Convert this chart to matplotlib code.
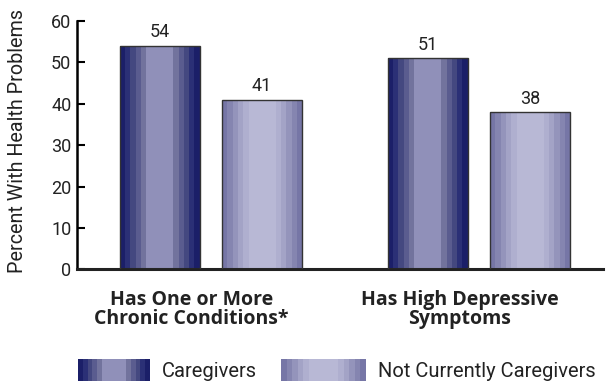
import numpy as np
import matplotlib.pyplot as plt
from matplotlib.patches import Rectangle

plt.rcParams['font.family'] = ['Roboto', 'DejaVu Sans']

categories = ['Has One or More\nChronic Conditions*', 'Has High Depressive\nSymptoms']
series_names = ['Caregivers', 'Not Currently Caregivers']
caregivers = [54, 51]
not_caregivers = [41, 38]
yticks = [0, 10, 20, 30, 40, 50, 60]

# stripe colours, outer edge -> centre
shade_care = ['#1b1f68', '#2b3076', '#444880', '#5a5c8f', '#72739d', '#9090b9']
shade_not = ['#7676a6', '#8585b0', '#9494bb', '#a3a3c6', '#afafcf', '#b8b8d5']
TXT = '#222222'


def stripes(shades):
    # symmetric list of (start, width, colour) as fractions of the bar width
    side = 0.066
    centre = 1 - 2 * side * (len(shades) - 1)
    out = []
    pos = 0.0
    for c in shades[:-1]:
        out.append((pos, side, c))
        pos += side
    out.append((pos, centre, shades[-1]))
    pos += centre
    for c in reversed(shades[:-1]):
        out.append((pos, side, c))
        pos += side
    return out


def shaded_bar(ax, x, h, w, shades):
    for s, sw, c in stripes(shades):
        ax.bar(x - w / 2 + s * w, h, width=sw * w, align='edge', color=c,
               linewidth=0, zorder=2)
    ax.bar(x, h, width=w, fill=False, edgecolor='#333333', linewidth=1.0, zorder=3)


fig = plt.figure(figsize=(6.06, 3.81), dpi=100)
ax = fig.add_axes([0.127, 0.2927, 0.868, 0.652])

x = np.arange(len(categories))
w = 0.298
off = 0.191
for i in x:
    shaded_bar(ax, i - off, caregivers[i], w, shade_care)
    shaded_bar(ax, i + off, not_caregivers[i], w, shade_not)
    ax.text(i - off, caregivers[i] + 1.1, str(caregivers[i]), ha='center', va='bottom',
            fontsize=13, color=TXT)
    ax.text(i + off, not_caregivers[i] + 1.1, str(not_caregivers[i]), ha='center',
            va='bottom', fontsize=13, color=TXT)
    ax.text(i - 0.072, -5.0, categories[i], ha='center', va='top', fontsize=14,
            fontweight='bold', color=TXT, linespacing=0.95,
            family=['Open Sans', 'DejaVu Sans'])

ax.set_xlim(-0.5, 1.4627)
ax.set_ylim(0, 60)
ax.set_yticks(yticks)
ax.set_xticks([])
ax.tick_params(axis='y', direction='in', length=6, width=1.5, labelsize=13,
               labelcolor=TXT, pad=4)
for side in ['top', 'right']:
    ax.spines[side].set_visible(False)
ax.spines['left'].set_linewidth(1.8)
ax.spines['bottom'].set_linewidth(2.2)
ax.spines['bottom'].set_color('#222222')
ax.set_ylabel('Percent With Health Problems', fontsize=14.2, color=TXT)
ax.yaxis.set_label_coords(-0.095, 0.517)

# legend swatches with the same striping
for (x0, x1), shades, name in [((78, 150), shade_care, series_names[0]),
                               ((281, 366), shade_not, series_names[1])]:
    la = fig.add_axes([x0 / 606, 0, (x1 - x0) / 606, 22 / 381])
    la.set_xlim(0, 1)
    la.set_ylim(0, 1)
    la.axis('off')
    for s, sw, c in stripes(shades):
        la.add_patch(Rectangle((s, 0), sw, 1, color=c, lw=0))
    fig.text((x1 + 12) / 606, 9.5 / 381, name, ha='left', va='center', fontsize=14.5,
             color=TXT)

fig.savefig('out.png', dpi=100)
